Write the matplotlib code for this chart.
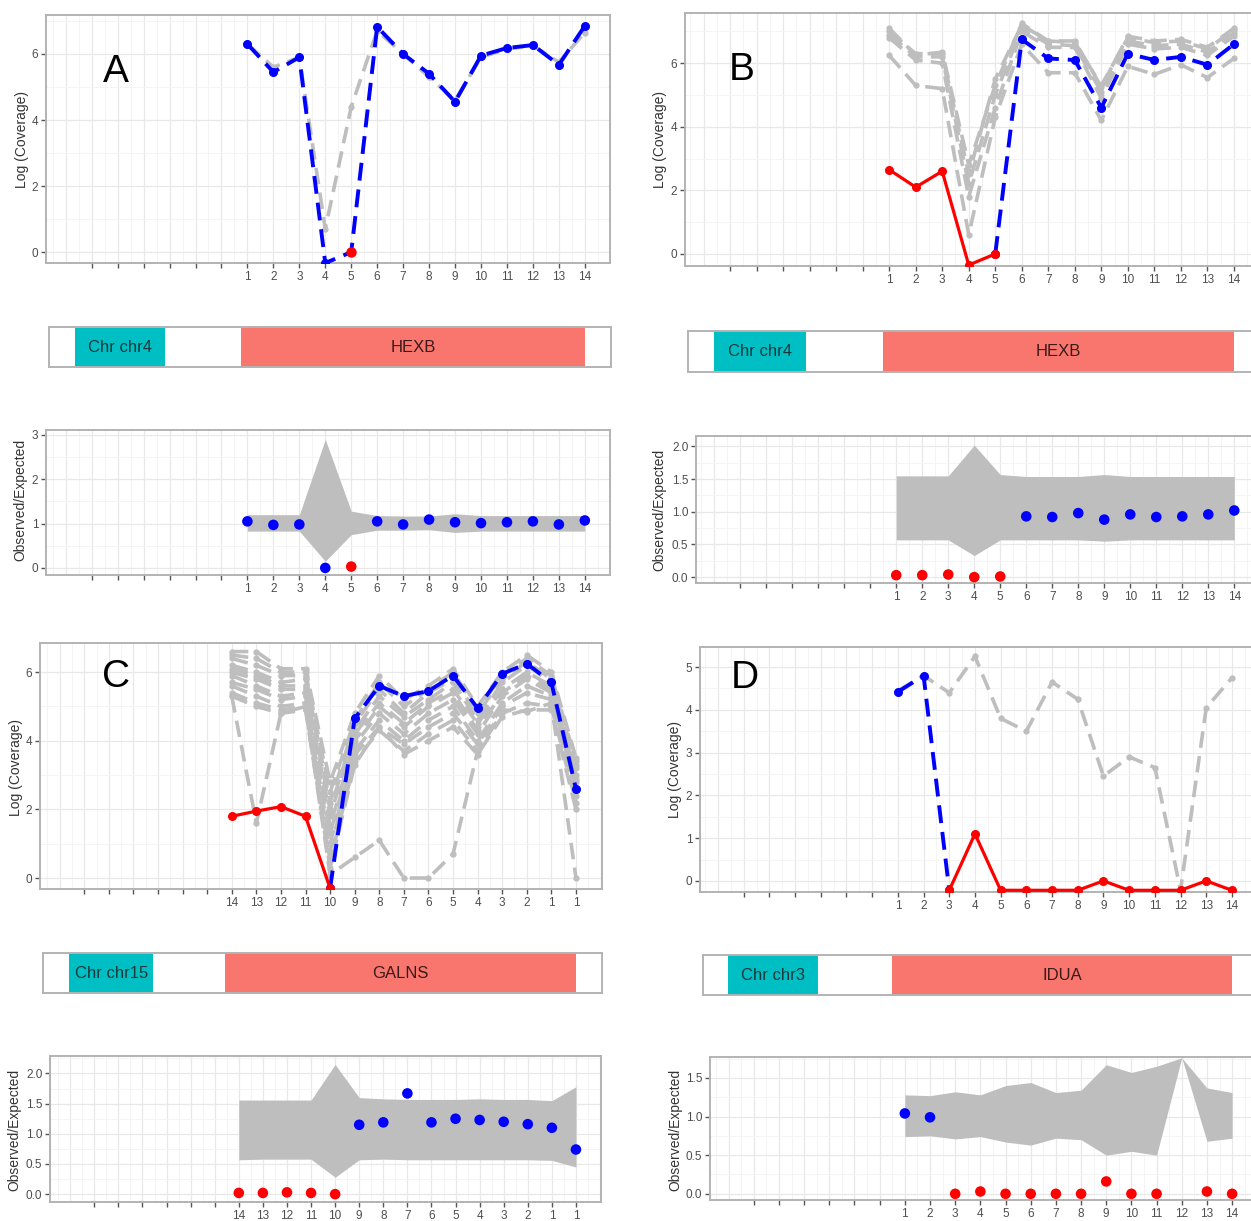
import numpy as np
import matplotlib
matplotlib.use("Agg")
import matplotlib.pyplot as plt
from matplotlib.patches import Rectangle

plt.rcParams['font.family'] = ['Liberation Sans', 'DejaVu Sans']

# ---------------- data ----------------
blank_ticks = [-5, -4, -3, -2, -1, 0]
exons14 = list(range(1, 15))
exon_labels_14 = [str(i) for i in exons14]
pos15 = list(range(1, 16))
exon_labels_C = ['14', '13', '12', '11', '10', '9', '8', '7', '6', '5', '4', '3', '2', '1', '1']

# Panel A (HEXB)
A_blue = [6.3, 5.45, 5.9, -0.33, 0.0, 6.82, 6.0, 5.4, 4.55, 5.95, 6.18, 6.27, 5.67, 6.85]
A_grey = [[6.3, 5.6, 5.9, 0.7, 4.4, 6.7, 6.0, 5.3, 4.6, 5.9, 6.15, 6.25, 5.75, 6.65]]
A_red_x = [5]
A_red = [0.0]
A_oe_lo = [0.83, 0.83, 0.83, 0.15, 0.75, 0.85, 0.85, 0.86, 0.80, 0.83, 0.83, 0.83, 0.83, 0.83]
A_oe_hi = [1.20, 1.20, 1.20, 2.90, 1.28, 1.18, 1.17, 1.17, 1.22, 1.18, 1.18, 1.18, 1.18, 1.18]
A_oe = [1.05, 0.97, 0.98, 0.0, 0.03, 1.05, 0.98, 1.09, 1.03, 1.01, 1.03, 1.05, 0.98, 1.07]
A_deleted = [5]

# Panel B (HEXB)
B_red_x = [1, 2, 3, 4, 5]
B_red = [2.65, 2.1, 2.6, -0.35, 0.0]
B_blue_x = [5, 6, 7, 8, 9, 10, 11, 12, 13, 14]
B_blue = [0.0, 6.75, 6.15, 6.1, 4.6, 6.3, 6.1, 6.2, 5.95, 6.6]
B_grey = [
    [7.1, 6.25, 6.35, 2.8, 5.3, 7.25, 6.7, 6.7, 5.25, 6.85, 6.7, 6.75, 6.5, 7.1],
    [7.0, 6.3, 6.3, 2.5, 5.5, 7.2, 6.7, 6.65, 5.3, 6.8, 6.65, 6.7, 6.45, 7.05],
    [6.9, 6.2, 6.2, 2.2, 5.0, 7.1, 6.6, 6.55, 5.1, 6.7, 6.55, 6.6, 6.35, 6.95],
    [6.8, 6.1, 6.0, 1.8, 4.6, 7.0, 6.5, 6.5, 4.9, 6.6, 6.45, 6.5, 6.25, 6.85],
    [6.25, 5.3, 5.2, 0.6, 4.3, 6.6, 5.7, 5.7, 4.2, 5.9, 5.65, 5.95, 5.55, 6.15],
]
B_oe_lo = [0.57, 0.57, 0.57, 0.33, 0.57, 0.57, 0.57, 0.57, 0.55, 0.57, 0.57, 0.57, 0.57, 0.57]
B_oe_hi = [1.55, 1.55, 1.55, 2.02, 1.57, 1.54, 1.54, 1.54, 1.57, 1.54, 1.54, 1.54, 1.54, 1.54]
B_oe = [0.03, 0.03, 0.04, 0.0, 0.01, 0.93, 0.92, 0.98, 0.88, 0.96, 0.92, 0.93, 0.96, 1.02]
B_deleted = [1, 2, 3, 4, 5]

# Panel C (GALNS) - positions 1..15, labelled 14..1,1
C_red_x = [1, 2, 3, 4, 5]
C_red = [1.8, 1.95, 2.08, 1.8, -0.3]
C_blue_x = [5, 6, 7, 8, 9, 10, 11, 12, 13, 14, 15]
C_blue = [-0.3, 4.65, 5.6, 5.3, 5.45, 5.9, 4.95, 5.95, 6.25, 5.7, 2.6]
C_grey = [
    [6.6, 6.6, 6.1, 6.1, 2.8, 4.8, 5.9, 5.2, 5.6, 6.1, 5.0, 6.0, 6.5, 6.0, 3.5],
    [6.5, 6.4, 6.0, 6.0, 2.5, 4.6, 5.7, 5.0, 5.5, 6.0, 4.9, 5.9, 6.4, 5.9, 3.4],
    [6.4, 6.2, 5.9, 5.9, 2.2, 4.5, 5.5, 4.8, 5.4, 5.8, 4.8, 5.8, 6.3, 5.8, 3.3],
    [6.2, 6.0, 5.7, 5.8, 2.0, 4.3, 5.3, 4.7, 5.2, 5.7, 4.6, 5.7, 6.2, 5.7, 3.2],
    [6.1, 5.9, 5.6, 5.6, 1.8, 4.2, 5.1, 4.5, 5.1, 5.5, 4.5, 5.5, 6.0, 5.6, 3.0],
    [6.0, 5.8, 5.5, 5.5, 1.5, 4.0, 5.0, 4.4, 5.0, 5.4, 4.3, 5.4, 5.9, 5.5, 2.9],
    [5.9, 5.6, 5.3, 5.4, 1.3, 3.9, 4.8, 4.2, 4.8, 5.2, 4.2, 5.3, 5.8, 5.4, 2.8],
    [5.7, 5.5, 5.2, 5.3, 1.0, 3.7, 4.6, 4.0, 4.6, 5.0, 4.0, 5.1, 5.6, 5.3, 2.6],
    [5.6, 5.3, 5.0, 5.1, 0.8, 3.6, 4.4, 3.9, 4.4, 4.8, 3.9, 5.0, 5.4, 5.2, 2.4],
    [5.4, 5.1, 4.9, 5.0, 0.5, 3.4, 4.3, 3.7, 4.2, 4.6, 3.7, 4.8, 5.1, 5.0, 2.2],
    [5.3, 5.0, 4.8, 4.9, 0.3, 3.3, 4.4, 3.6, 4.0, 4.4, 3.6, 4.7, 4.9, 4.9, 2.0],
    [5.3, 1.6, 4.8, 5.0, 0.1, 0.6, 1.1, 0.0, 0.0, 0.7, 3.7, 4.9, 4.85, 5.1, 0.0],
]
C_oe_lo = [0.57, 0.58, 0.58, 0.58, 0.28, 0.57, 0.58, 0.57, 0.57, 0.57, 0.57, 0.57, 0.57, 0.56, 0.45]
C_oe_hi = [1.56, 1.56, 1.56, 1.56, 2.15, 1.60, 1.58, 1.57, 1.57, 1.57, 1.58, 1.57, 1.57, 1.55, 1.78]
C_oe = [0.02, 0.02, 0.03, 0.02, 0.0, 1.15, 1.19, 1.67, 1.19, 1.25, 1.23, 1.20, 1.16, 1.10, 0.74]
C_deleted = [1, 2, 3, 4, 5]

# Panel D (IDUA)
D_blue_x = [1, 2, 3]
D_blue = [4.42, 4.8, -0.22]
D_red_x = [3, 4, 5, 6, 7, 8, 9, 10, 11, 12, 13, 14]
D_red = [-0.22, 1.1, -0.22, -0.22, -0.22, -0.22, 0.0, -0.22, -0.22, -0.22, 0.0, -0.22]
D_grey = [[4.45, 4.8, 4.4, 5.25, 3.8, 3.5, 4.65, 4.25, 2.45, 2.9, 2.65, -0.22, 4.05, 4.75]]
D_oe_lo = [0.74, 0.75, 0.71, 0.74, 0.67, 0.63, 0.72, 0.70, 0.50, 0.55, 0.50, 1.76, 0.68, 0.72]
D_oe_hi = [1.28, 1.27, 1.32, 1.28, 1.40, 1.44, 1.31, 1.34, 1.67, 1.57, 1.65, 1.76, 1.37, 1.31]
D_oe = [1.04, 0.99, 0.0, 0.03, 0.0, 0.0, 0.0, 0.0, 0.16, 0.0, 0.0, np.nan, 0.03, 0.0]
D_deleted = [3, 4, 5, 6, 7, 8, 9, 10, 11, 12, 13, 14]

# gene tracks: (chromosome label, gene, chr segment, gene segment) as fractions of track
tracks = {
    'A': ('Chr chr4', 'HEXB', (0.046, 0.206), (0.342, 0.954)),
    'B': ('Chr chr4', 'HEXB', (0.046, 0.209), (0.345, 0.966)),
    'C': ('Chr chr15', 'GALNS', (0.047, 0.197), (0.326, 0.953)),
    'D': ('Chr chr3', 'IDUA', (0.045, 0.209), (0.344, 0.962)),
}

# ---------------- drawing ----------------
W, H = 1251, 1221
fig = plt.figure(figsize=(W / 100, H / 100), dpi=100)

BLUE = '#0000ff'
RED = '#ff0000'
GREY = '#bebebe'
FRAME = '#b3b3b3'
TEAL = '#00BFC4'
SALMON = '#F8766D'


def pax(l, t, r, b):
    return fig.add_axes([l / W, 1 - b / H, (r - l) / W, (b - t) / H])


def setup(ax, xpos, labels, xlim, ylim, ymaj, ystep_minor, yfmt):
    ax.set_xlim(xlim)
    ax.set_ylim(ylim)
    ax.set_xticks(blank_ticks + list(xpos))
    ax.set_xticklabels([''] * len(blank_ticks) + labels)
    ax.set_yticks(ymaj)
    ax.set_yticklabels([yfmt.format(v) for v in ymaj])
    # grid
    for xv in np.arange(np.floor(xlim[0]), xlim[1] + 1, 1.0):
        ax.axvline(xv, color='#e8e8e8', lw=0.9, zorder=0)
        ax.axvline(xv + 0.5, color='#f3f3f3', lw=0.6, zorder=0)
    yv = ymaj[0] - ystep_minor * 4
    while yv <= ylim[1] + ystep_minor:
        ax.axhline(yv, color='#f3f3f3', lw=0.6, zorder=0)
        yv += ystep_minor
    for v in ymaj:
        ax.axhline(v, color='#e8e8e8', lw=0.9, zorder=0)
    for s in ax.spines.values():
        s.set_color(FRAME)
        s.set_linewidth(1.4)
    ax.tick_params(length=3.5, width=1.0, color='#555555', labelsize=8.5,
                   labelcolor='#4d4d4d', pad=2)


def ylabel(x, y, text):
    fig.text(x / W, 1 - y / H, text, rotation=90, ha='center', va='center',
             fontsize=10, color='#333333')


def letter(x, y, text):
    fig.text(x / W, 1 - y / H, text, ha='center', va='center',
             fontsize=28, color='black')


DASH = (0, (4.6, 2.3))


def grey_lines(ax, xs, lines):
    for g in lines:
        ax.plot(xs, g, color=GREY, lw=2.6, ls=DASH, marker='o', ms=3.5,
                mfc=GREY, mec=GREY, zorder=2)


def blue_line(ax, xs, ys):
    ax.plot(xs, ys, color=BLUE, lw=2.8, ls=DASH, marker='o', ms=5.5,
            mfc=BLUE, mec=BLUE, zorder=4)


def red_line(ax, xs, ys):
    ax.plot(xs, ys, color=RED, lw=2.3, ls='-', marker='o', ms=5.5,
            mfc=RED, mec=RED, zorder=5)


def oe_panel(ax, xs, lo, hi, vals, deleted):
    ax.fill_between(xs, lo, hi, color=GREY, lw=0, zorder=2)
    cols = [RED if x in deleted else BLUE for x in xs]
    ax.scatter(xs, vals, c=cols, s=58, zorder=4, linewidths=0)


def track(l, t, r, b, key):
    chrlab, gene, cseg, gseg = tracks[key]
    ax = pax(l, t, r, b)
    ax.set_xlim(0, 1)
    ax.set_ylim(0, 1)
    ax.set_xticks([])
    ax.set_yticks([])
    for s in ax.spines.values():
        s.set_color(FRAME)
        s.set_linewidth(1.4)
    ax.add_patch(Rectangle((cseg[0], 0), cseg[1] - cseg[0], 1, color=TEAL, lw=0))
    ax.add_patch(Rectangle((gseg[0], 0), gseg[1] - gseg[0], 1, color=SALMON, lw=0))
    ax.text((cseg[0] + cseg[1]) / 2, 0.5, chrlab, ha='center', va='center',
            fontsize=12, color='#1a3a3a')
    ax.text((gseg[0] + gseg[1]) / 2, 0.5, gene, ha='center', va='center',
            fontsize=12, color='#3a1a1a')


# ---- Panel A ----
ax = pax(46, 15, 610, 263)
setup(ax, exons14, exon_labels_14, (-6.76, 14.97), (-0.33, 7.18), [0, 2, 4, 6], 1.0, '{:g}')
grey_lines(ax, exons14, A_grey)
blue_line(ax, exons14, A_blue)
ax.plot(A_red_x, A_red, 'o', color=RED, ms=6.5, zorder=6)
ylabel(22, 140, 'Log (Coverage)')
letter(116, 72, 'A')

track(49, 327, 611, 367, 'A')

ax = pax(46, 430, 610, 575)
setup(ax, exons14, exon_labels_14, (-6.76, 14.97), (-0.16, 3.11), [0, 1, 2, 3], 0.5, '{:g}')
oe_panel(ax, exons14, A_oe_lo, A_oe_hi, A_oe, A_deleted)
ylabel(20, 500, 'Observed/Expected')

# ---- Panel B ----
ax = pax(685, 13, 1253, 266)
setup(ax, exons14, exon_labels_14, (-6.7, 14.72), (-0.38, 7.58), [0, 2, 4, 6], 1.0, '{:g}')
grey_lines(ax, exons14, B_grey)
blue_line(ax, B_blue_x, B_blue)
red_line(ax, B_red_x, B_red)
ylabel(660, 140, 'Log (Coverage)')
letter(742, 70, 'B')

track(688, 331, 1253, 372, 'B')

ax = pax(696, 436, 1253, 583)
setup(ax, exons14, exon_labels_14, (-6.7, 14.72), (-0.09, 2.16),
      [0.0, 0.5, 1.0, 1.5, 2.0], 0.25, '{:.1f}')
oe_panel(ax, exons14, B_oe_lo, B_oe_hi, B_oe, B_deleted)
ylabel(659, 510, 'Observed/Expected')

# ---- Panel C ----
ax = pax(40, 643, 602, 889)
setup(ax, pos15, exon_labels_C, (-6.8, 16.06), (-0.32, 6.85), [0, 2, 4, 6], 1.0, '{:g}')
grey_lines(ax, pos15, C_grey)
blue_line(ax, C_blue_x, C_blue)
red_line(ax, C_red_x, C_red)
ylabel(16, 767, 'Log (Coverage)')
letter(116, 677, 'C')

track(43, 953, 602, 993, 'C')

ax = pax(50, 1056, 601, 1202)
setup(ax, pos15, exon_labels_C, (-6.84, 16.04), (-0.13, 2.29),
      [0.0, 0.5, 1.0, 1.5, 2.0], 0.25, '{:.1f}')
oe_panel(ax, pos15, C_oe_lo, C_oe_hi, C_oe, C_deleted)
ylabel(14, 1130, 'Observed/Expected')

# ---- Panel D ----
ax = pax(700, 647, 1253, 892)
setup(ax, exons14, exon_labels_14, (-6.7, 14.82), (-0.26, 5.47), [0, 1, 2, 3, 4, 5], 0.5, '{:g}')
grey_lines(ax, exons14, D_grey)
blue_line(ax, D_blue_x, D_blue)
red_line(ax, D_red_x, D_red)
ylabel(675, 770, 'Log (Coverage)')
letter(745, 678, 'D')

track(703, 955, 1253, 995, 'D')

ax = pax(710, 1057, 1253, 1200)
setup(ax, exons14, exon_labels_14, (-6.74, 14.83), (-0.08, 1.77),
      [0.0, 0.5, 1.0, 1.5], 0.25, '{:.1f}')
oe_panel(ax, exons14, D_oe_lo, D_oe_hi, D_oe, D_deleted)
ylabel(675, 1130, 'Observed/Expected')

fig.savefig('out.png', dpi=100, facecolor='white')
